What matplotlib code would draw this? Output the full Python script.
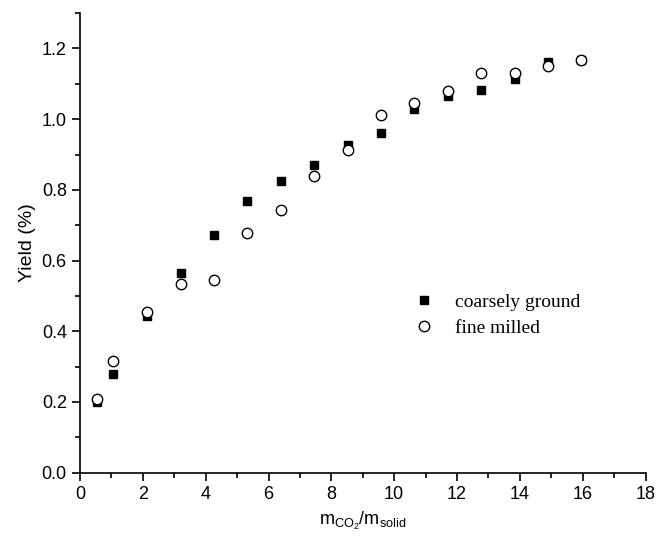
import matplotlib
matplotlib.use("Agg")
import matplotlib.pyplot as plt
from matplotlib.ticker import MultipleLocator

# ratio m_CO2 / m_solid
x_coarse = [0.55, 1.06, 2.14, 3.20, 4.26, 5.33, 6.40, 7.45, 8.54, 9.59, 10.64, 11.70, 12.77, 13.84, 14.89, 15.96]
y_coarse = [0.200, 0.279, 0.443, 0.565, 0.672, 0.769, 0.825, 0.870, 0.926, 0.962, 1.030, 1.065, 1.083, 1.115, 1.161, 1.168]

x_fine = [0.55, 1.06, 2.14, 3.20, 4.26, 5.33, 6.40, 7.45, 8.54, 9.59, 10.64, 11.70, 12.77, 13.84, 14.89, 15.96]
y_fine = [0.208, 0.316, 0.455, 0.535, 0.545, 0.679, 0.742, 0.838, 0.914, 1.012, 1.046, 1.080, 1.132, 1.132, 1.150, 1.168]

plt.rcParams['font.family'] = ['Liberation Sans', 'DejaVu Sans']

fig = plt.figure(figsize=(6.56, 5.47), dpi=100)
ax = fig.add_axes([0.122, 0.136, 0.862, 0.840])

ax.plot(x_coarse, y_coarse, 's', color='black', markersize=6, linestyle='none', label='coarsely ground')
ax.plot(x_fine, y_fine, 'o', markerfacecolor='white', markeredgecolor='black', markeredgewidth=1.0,
        markersize=7.5, linestyle='none', label='fine milled')

ax.set_xlim(0, 18)
ax.set_ylim(0, 1.3)
ax.xaxis.set_major_locator(MultipleLocator(2))
ax.xaxis.set_minor_locator(MultipleLocator(1))
ax.yaxis.set_minor_locator(MultipleLocator(0.1))
ax.set_yticks([0, 0.2, 0.4, 0.6, 0.8, 1.0, 1.2])
ax.set_yticklabels(['0.0', '0.2', '0.4', '0.6', '0.8', '1.0', '1.2'])

for s in ['top', 'right']:
    ax.spines[s].set_visible(False)
for s in ['left', 'bottom']:
    ax.spines[s].set_linewidth(1.2)

ax.tick_params(which='major', direction='out', length=6, width=1.2, labelsize=13)
ax.tick_params(which='minor', direction='out', length=3.5, width=1.2)

ax.set_ylabel('Yield (%)', fontsize=14, labelpad=4)
ax.set_xlabel(r'$\mathregular{m_{CO_2}/m_{solid}}$', fontsize=13, labelpad=5)

ax.legend(loc='center left', bbox_to_anchor=(0.56, 0.343), frameon=False,
          prop={'family': 'Liberation Serif', 'size': 14}, handletextpad=0.6,
          labelspacing=0.45, borderaxespad=0)

fig.savefig('out.png', dpi=100)
